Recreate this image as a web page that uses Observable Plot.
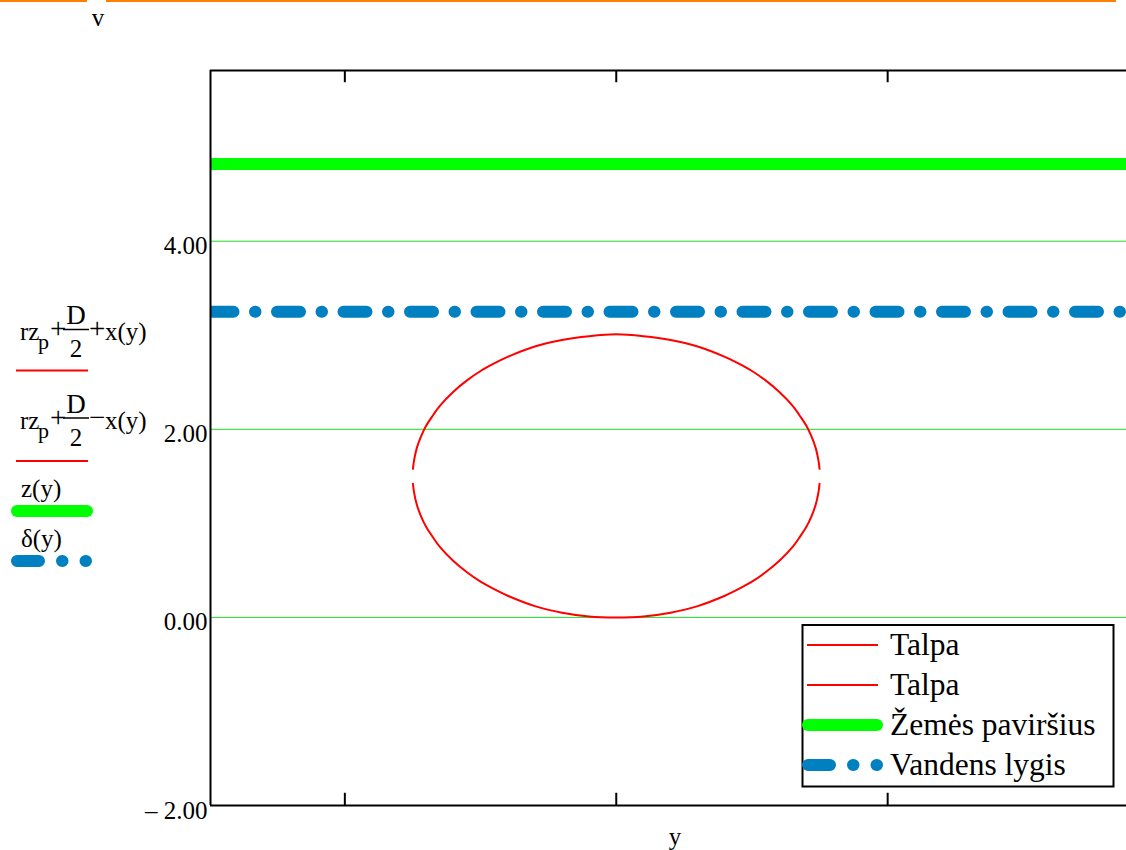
<!DOCTYPE html>
<html><head><meta charset="utf-8">
<script src="https://cdn.jsdelivr.net/npm/d3@7"></script>
<script src="https://cdn.jsdelivr.net/npm/@observablehq/plot@0.6"></script>
<style>
body{margin:0;background:#fff;}
#wrap{position:relative;width:1126px;height:850px;overflow:hidden;font-family:"Liberation Serif","Times New Roman",serif;}
#wrap svg{position:absolute;left:0;top:0;}
</style></head><body><div id="wrap"></div>
<script>
// ---- data ----
const xDomain = [-2.99, 3.76];
const yDomain = [-2, 5.815];
const yTicks = [-2, 0, 2, 4];
const gridValues = [0, 2, 4];
const xTicks = [-2, 0, 2];
// Talpa (tunnel cross-section) points
const talpaY = [-1.498, -1.49, -1.47, -1.44, -1.4, -1.35, -1.3, -1.2, -1.1, -1.0, -0.9, -0.8, -0.6, -0.4, -0.2, 0, 0.2, 0.4, 0.6, 0.8, 0.9, 1.0, 1.1, 1.2, 1.3, 1.35, 1.4, 1.44, 1.47, 1.49, 1.498];
const talpaUpper = [1.58, 1.67, 1.80, 1.92, 2.04, 2.15, 2.25, 2.40, 2.52, 2.62, 2.70, 2.77, 2.88, 2.95, 2.99, 3.01, 2.99, 2.95, 2.88, 2.77, 2.70, 2.62, 2.52, 2.40, 2.25, 2.15, 2.04, 1.92, 1.80, 1.67, 1.58];
const talpaLower = [1.42, 1.33, 1.20, 1.08, 0.96, 0.85, 0.75, 0.60, 0.48, 0.38, 0.30, 0.23, 0.12, 0.05, 0.01, 0.00, 0.01, 0.05, 0.12, 0.23, 0.30, 0.38, 0.48, 0.60, 0.75, 0.85, 0.96, 1.08, 1.20, 1.33, 1.42];
// Žemės paviršius z(y)
const surfaceY = [-2.99, 3.76];
const surfaceV = [4.82, 4.82];
// Vandens lygis δ(y)
const waterY = [-2.99, 3.76];
const waterV = [3.25, 3.25];
const legendLabels = ["Talpa", "Talpa", "Žemės paviršius", "Vandens lygis"];

const RED = "#ff0000", GREEN = "#00ff00", BLUE = "#0080c0", GRID = "#22dd22";
const FONT = "Liberation Serif, Times New Roman, serif";

const upper = talpaY.map((y, i) => ({y, v: talpaUpper[i]}));
const lower = talpaY.map((y, i) => ({y, v: talpaLower[i]}));
const surface = surfaceY.map((y, i) => ({y, v: surfaceV[i]}));
const water = waterY.map((y, i) => ({y, v: waterV[i]}));

const fmt = d => d < 0 ? "\u2013 " + Math.abs(d).toFixed(2) : d.toFixed(2);

const chart = Plot.plot({
  width: 1126, height: 850,
  marginLeft: 210, marginRight: 0, marginTop: 70, marginBottom: 45,
  x: {domain: xDomain, axis: null, label: null},
  y: {domain: yDomain, label: null},
  style: {fontFamily: FONT, fontSize: "24px", color: "#000", background: "transparent", overflow: "visible"},
  marks: [
    Plot.ruleY(gridValues, {stroke: GRID, strokeWidth: 1}),
    Plot.line(upper, {x: "y", y: "v", stroke: RED, strokeWidth: 2, curve: "catmull-rom"}),
    Plot.line(lower, {x: "y", y: "v", stroke: RED, strokeWidth: 2, curve: "catmull-rom"}),
    Plot.line(surface, {x: "y", y: "v", stroke: GREEN, strokeWidth: 12, strokeLinecap: "butt"}),
    Plot.line(water, {x: "y", y: "v", stroke: BLUE, strokeWidth: 12, strokeLinecap: "round", strokeDasharray: "23,21.5,0.5,21.5", clip: true}),
    Plot.ruleY([yDomain[0], yDomain[1]], {stroke: "#000", strokeWidth: 2}),
    Plot.ruleX([xDomain[0]], {stroke: "#000", strokeWidth: 2}),
    Plot.ruleX(xTicks, {y1: yDomain[0], y2: yDomain[0] + 0.13, stroke: "#000", strokeWidth: 2}),
    Plot.ruleX(xTicks, {y1: yDomain[1] - 0.13, y2: yDomain[1], stroke: "#000", strokeWidth: 2}),
    Plot.axisY(yTicks, {tickSize: 0, tickPadding: 3, tickFormat: fmt, dy: 5, fontSize: 25, label: null})
  ]
});
const wrap = document.getElementById("wrap");
wrap.appendChild(chart);

// ---- overlay: page decorations, left legend expressions, legend box ----
const svg = d3.select(wrap).append("svg")
  .attr("width", 1126).attr("height", 850)
  .style("font-family", FONT).style("font-size", "25px").style("pointer-events", "none");

svg.append("rect").attr("x", 0).attr("y", 0).attr("width", 87).attr("height", 2).attr("fill", "#ff8000");
svg.append("rect").attr("x", 106).attr("y", 0).attr("width", 1010).attr("height", 2).attr("fill", "#ff8000");
svg.append("text").attr("x", 98).attr("y", 26).attr("text-anchor", "middle").text("v");
svg.append("text").attr("x", 675).attr("y", 845).attr("text-anchor", "middle").text("y");

function expr(dy, sign) {
  const g = svg.append("g").attr("transform", `translate(0,${dy})`);
  g.append("text").attr("x", 20).attr("y", 340).text("rz");
  g.append("text").attr("x", 38).attr("y", 349).style("font-size", "22px").text("p");
  g.append("text").attr("x", 50).attr("y", 338).style("font-size", "29px").text("+");
  g.append("line").attr("x1", 63).attr("x2", 89).attr("y1", 329.5).attr("y2", 329.5).attr("stroke", "#000").attr("stroke-width", 1.5);
  g.append("text").attr("x", 76).attr("y", 324).attr("text-anchor", "middle").style("font-size", "27px").text("D");
  g.append("text").attr("x", 76).attr("y", 357).attr("text-anchor", "middle").text("2");
  g.append("text").attr("x", 89).attr("y", 338).style("font-size", "29px").text(sign);
  g.append("text").attr("x", 105).attr("y", 340).text("x(y)");
}
expr(0, "+");
expr(88.5, "\u2212");

function redSample(x1, x2, y) {
  svg.append("line").attr("x1", x1).attr("x2", x2).attr("y1", y).attr("y2", y).attr("stroke", RED).attr("stroke-width", 2);
}
function greenSample(x1, x2, y) {
  svg.append("line").attr("x1", x1).attr("x2", x2).attr("y1", y).attr("y2", y)
    .attr("stroke", GREEN).attr("stroke-width", 12).attr("stroke-linecap", "round");
}
function blueSample(x1, y) {
  svg.append("line").attr("x1", x1).attr("x2", x1 + 70).attr("y1", y).attr("y2", y)
    .attr("stroke", BLUE).attr("stroke-width", 12).attr("stroke-linecap", "round")
    .attr("stroke-dasharray", "22,23,0.5,23,0.5,100");
}

redSample(16, 88, 370.5);
redSample(16, 88, 461);
svg.append("text").attr("x", 21).attr("y", 497).text("z(y)");
greenSample(17, 87, 511);
svg.append("text").attr("x", 21).attr("y", 547).text("\u03b4(y)");
blueSample(17, 561);

// legend box
svg.append("rect").attr("x", 802.5).attr("y", 625).attr("width", 311).attr("height", 161.5)
  .attr("fill", "#fff").attr("stroke", "#000").attr("stroke-width", 2);
const rowY = [645, 685, 725, 765];
redSample(807, 878, rowY[0]);
redSample(807, 878, rowY[1]);
greenSample(808, 877, rowY[2]);
blueSample(808, rowY[3]);
legendLabels.forEach((t, i) => {
  svg.append("text").attr("x", 890).attr("y", rowY[i] + 10).style("font-size", "31.5px").text(t);
});
</script></body></html>
